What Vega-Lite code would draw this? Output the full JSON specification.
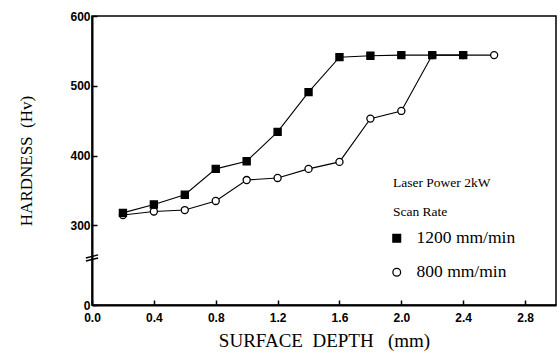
{
  "$schema": "https://vega.github.io/schema/vega-lite/v6.json",
  "width": 464,
  "height": 289,
  "autosize": {"type": "none"},
  "padding": {"left": 92, "top": 16, "right": 2, "bottom": 55},
  "background": "white",
  "config": {
    "view": {"stroke": "black", "strokeWidth": 1.5},
    "axis": {
      "domainColor": "black",
      "domainWidth": 2,
      "ticks": true,
      "tickColor": "black",
      "tickWidth": 1.5,
      "tickSize": -5,
      "grid": false,
      "labelFont": "Liberation Sans",
      "labelFontWeight": "bold",
      "labelFontSize": 12,
      "labelColor": "black",
      "titleFont": "Liberation Serif",
      "titleFontWeight": "normal",
      "titleFontSize": 17,
      "titleColor": "black"
    },
    "legend": {
      "orient": "none",
      "legendX": 301,
      "legendY": 160,
      "titleFont": "Liberation Serif",
      "titleFontWeight": "normal",
      "titleFontSize": 13.5,
      "titleColor": "black",
      "titleLineHeight": 29,
      "titlePadding": 11,
      "labelFont": "Liberation Serif",
      "labelFontSize": 17.5,
      "labelColor": "black",
      "labelOffset": 11,
      "symbolOffset": -5,
      "rowPadding": 15,
      "symbolSize": 60,
      "symbolStrokeColor": "black",
      "symbolStrokeWidth": 1.3
    }
  },
  "datasets": {
    "hardness": [
      {"depth": 0.2, "hv": 315, "rate": "800 mm/min"},
      {"depth": 0.4, "hv": 320, "rate": "800 mm/min"},
      {"depth": 0.6, "hv": 322, "rate": "800 mm/min"},
      {"depth": 0.8, "hv": 335, "rate": "800 mm/min"},
      {"depth": 1.0, "hv": 365, "rate": "800 mm/min"},
      {"depth": 1.2, "hv": 368, "rate": "800 mm/min"},
      {"depth": 1.4, "hv": 381, "rate": "800 mm/min"},
      {"depth": 1.6, "hv": 391, "rate": "800 mm/min"},
      {"depth": 1.8, "hv": 453, "rate": "800 mm/min"},
      {"depth": 2.0, "hv": 464, "rate": "800 mm/min"},
      {"depth": 2.2, "hv": 544, "rate": "800 mm/min"},
      {"depth": 2.4, "hv": 544, "rate": "800 mm/min"},
      {"depth": 2.6, "hv": 544, "rate": "800 mm/min"},
      {"depth": 0.2, "hv": 318, "rate": "1200 mm/min"},
      {"depth": 0.4, "hv": 330, "rate": "1200 mm/min"},
      {"depth": 0.6, "hv": 344, "rate": "1200 mm/min"},
      {"depth": 0.8, "hv": 381, "rate": "1200 mm/min"},
      {"depth": 1.0, "hv": 392, "rate": "1200 mm/min"},
      {"depth": 1.2, "hv": 434, "rate": "1200 mm/min"},
      {"depth": 1.4, "hv": 491, "rate": "1200 mm/min"},
      {"depth": 1.6, "hv": 541, "rate": "1200 mm/min"},
      {"depth": 1.8, "hv": 543, "rate": "1200 mm/min"},
      {"depth": 2.0, "hv": 544, "rate": "1200 mm/min"},
      {"depth": 2.2, "hv": 544, "rate": "1200 mm/min"},
      {"depth": 2.4, "hv": 544, "rate": "1200 mm/min"}
    ],
    "axisbreak": [{"depth": 0, "hv": 253}]
  },
  "layer": [
    {
      "data": {"name": "hardness"},
      "mark": {"type": "line", "color": "black", "strokeWidth": 1.1},
      "encoding": {
        "x": {"field": "depth", "type": "quantitative",
          "scale": {"domain": [0, 3.0], "nice": false, "zero": false},
          "axis": {
            "title": "SURFACE\u00a0\u00a0DEPTH\u00a0\u00a0\u00a0(mm)",
            "titleFontSize": 19,
            "values": [0, 0.2, 0.4, 0.6, 0.8, 1.0, 1.2, 1.4, 1.6, 1.8, 2.0, 2.2, 2.4, 2.6, 2.8],
            "labelExpr": "round(datum.value*10) % 4 == 0 ? format(datum.value, '.1f') : ''",
            "labelPadding": 12,
            "titlePadding": 8,
            "labelFlush": false
          }
        },
        "y": {"field": "hv", "type": "quantitative",
          "scale": {"domain": [186, 600], "nice": false, "zero": false},
          "axis": {
            "title": "HARDNESS\u00a0\u00a0(Hv)",
            "values": [186, 214, 300, 350, 400, 450, 500, 550, 600],
            "labelExpr": "datum.value < 200 ? (datum.value < 190 ? '0' : '') : (datum.value % 100 == 0 ? datum.label : '')",
            "labelPadding": 7,
            "titlePadding": 34,
            "labelFlush": false
          }
        },
        "detail": {"field": "rate"}
      }
    },
    {
      "data": {"name": "hardness"},
      "mark": {"type": "point", "filled": false, "strokeWidth": 1.3, "size": 50, "opacity": 1},
      "encoding": {
        "x": {"field": "depth", "type": "quantitative"},
        "y": {"field": "hv", "type": "quantitative"},
        "shape": {"field": "rate", "type": "nominal",
          "scale": {"domain": ["1200 mm/min", "800 mm/min"], "range": ["square", "circle"]},
          "legend": {"title": ["Laser Power 2kW", "Scan Rate"]}
        },
        "fill": {"field": "rate", "type": "nominal",
          "scale": {"domain": ["1200 mm/min", "800 mm/min"], "range": ["black", "white"]},
          "legend": {"title": ["Laser Power 2kW", "Scan Rate"]}
        },
        "stroke": {"field": "rate", "type": "nominal",
          "scale": {"domain": ["1200 mm/min", "800 mm/min"], "range": ["black", "black"]},
          "legend": {"title": ["Laser Power 2kW", "Scan Rate"]}
        }
      }
    },
    {
      "data": {"name": "axisbreak"},
      "mark": {"type": "point", "shape": "M-1,-0.05L1,-0.55M-1,0.45L1,-0.05", "filled": false, "stroke": "black", "strokeWidth": 1.5, "size": 150, "opacity": 1, "clip": false},
      "encoding": {
        "x": {"field": "depth", "type": "quantitative"},
        "y": {"field": "hv", "type": "quantitative"}
      }
    }
  ]
}
